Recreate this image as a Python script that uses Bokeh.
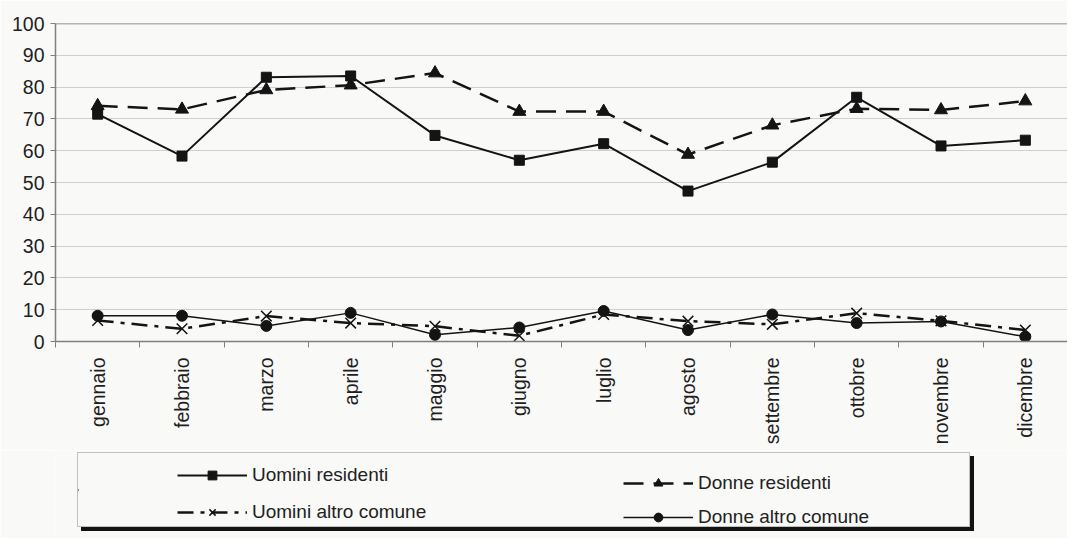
import math
from bokeh.plotting import figure
from bokeh.layouts import column
from bokeh.models import Range1d, FixedTicker, Span, Legend, LegendItem
from bokeh.embed import file_html
from bokeh.resources import INLINE

# ---- data ----
months = ["gennaio", "febbraio", "marzo", "aprile", "maggio", "giugno",
          "luglio", "agosto", "settembre", "ottobre", "novembre", "dicembre"]
uomini_residenti = [71.5, 58.3, 83.1, 83.5, 64.8, 57.0, 62.2, 47.3, 56.4, 76.8, 61.5, 63.3]
donne_residenti = [74.1, 73.0, 79.1, 80.6, 84.4, 72.3, 72.3, 58.8, 68.0, 73.2, 72.8, 75.6]
uomini_altro = [6.6, 4.0, 8.0, 5.8, 4.8, 1.8, 8.5, 6.4, 5.4, 8.9, 6.5, 3.6]
donne_altro = [8.1, 8.1, 4.9, 9.0, 2.1, 4.4, 9.6, 3.6, 8.5, 5.8, 6.3, 1.5]
y_ticks = list(range(0, 101, 10))

x = [i + 0.5 for i in range(len(months))]
bounds = list(range(len(months) + 1))

BG = "#f9f9f8"
INK = "#141414"
FONT = "Liberation Sans"
LEFT = 55

# ---- styles ----
ST = {
    "ur_line": dict(line_color=INK, line_width=2),
    "ur_mark": dict(marker="square", size=10, fill_color=INK, line_color=INK),
    "dr_line": dict(line_color=INK, line_width=2.5, line_dash="20 10"),
    "dr_mark": dict(marker="triangle", size=13, fill_color=INK, line_color=INK),
    "ua_line": dict(line_color=INK, line_width=2.5, line_dash="16 7 4 7"),
    "ua_mark": dict(marker="x", size=15, line_color=INK, line_width=1.5),
    "da_line": dict(line_color=INK, line_width=1.5),
    "da_mark": dict(marker="circle", size=11, fill_color=INK, line_color=INK),
}

p = figure(width=1067, height=450, output_backend="svg", toolbar_location=None,
           x_range=Range1d(0, len(months)), y_range=Range1d(0, 100),
           min_border_left=LEFT, min_border_right=0, min_border_top=23, min_border_bottom=109,
           background_fill_color=BG, border_fill_color=BG, outline_line_color=None)

# axes
p.xaxis.ticker = FixedTicker(ticks=x, minor_ticks=bounds)
p.xaxis.major_label_overrides = {xi: m for xi, m in zip(x, months)}
p.xaxis.major_label_orientation = math.pi / 2
p.xaxis.major_tick_line_color = None
p.xaxis.minor_tick_out = 6
p.xaxis.minor_tick_in = 0
p.xaxis.minor_tick_line_color = "#808080"
p.xaxis.axis_line_color = "#808080"
p.xaxis.axis_line_width = 1.5
p.xaxis.major_label_text_font = FONT
p.xaxis.major_label_text_font_size = "19.5px"
p.xaxis.major_label_text_color = "#1e1e1e"
p.xaxis.major_label_standoff = 10

p.yaxis.ticker = FixedTicker(ticks=y_ticks)
p.yaxis.major_tick_out = 5
p.yaxis.major_tick_in = 0
p.yaxis.minor_tick_line_color = None
p.yaxis.major_tick_line_color = "#808080"
p.yaxis.axis_line_color = "#808080"
p.yaxis.axis_line_width = 1.5
p.yaxis.major_label_text_font = FONT
p.yaxis.major_label_text_font_size = "19.5px"
p.yaxis.major_label_text_color = "#1e1e1e"
p.yaxis.major_label_standoff = 6

p.xgrid.grid_line_color = None
p.ygrid.grid_line_color = "#cfcfcf"
p.ygrid.grid_line_width = 1
p.add_layout(Span(location=p.y_range.end, dimension="width", line_color="#707070", line_width=1.5))

# series
p.line(x, uomini_residenti, **ST["ur_line"])
p.scatter(x, uomini_residenti, **ST["ur_mark"])
p.line(x, donne_residenti, **ST["dr_line"])
p.scatter(x, donne_residenti, **ST["dr_mark"])
p.line(x, uomini_altro, **ST["ua_line"])
p.scatter(x, uomini_altro, **ST["ua_mark"])
p.line(x, donne_altro, **ST["da_line"])
p.scatter(x, donne_altro, **ST["da_mark"])

# ---- legend panel (same series, kept out of its view; only the legend shows) ----
QH = 88
q = figure(width=1067, height=QH, output_backend="svg", toolbar_location=None,
           x_axis_location=None, y_axis_location=None,
           x_range=Range1d(0, len(months)), y_range=Range1d(-300, -200),
           min_border_left=LEFT, min_border_right=0, min_border_top=0, min_border_bottom=0,
           background_fill_color=BG, border_fill_color=BG, outline_line_color=None)
q.grid.visible = False

ql1 = q.line(x, uomini_residenti, **ST["ur_line"]); qs1 = q.scatter(x, uomini_residenti, **ST["ur_mark"])
ql2 = q.line(x, donne_residenti, **ST["dr_line"]); qs2 = q.scatter(x, donne_residenti, **ST["dr_mark"])
ql3 = q.line(x, uomini_altro, **ST["ua_line"]); qs3 = q.scatter(x, uomini_altro, **ST["ua_mark"])
ql4 = q.line(x, donne_altro, **ST["da_line"]); qs4 = q.scatter(x, donne_altro, **ST["da_mark"])

TOP = 450  # page y where the legend panel starts

def box_legend(left, bottom, fill, border, bw):
    return Legend(items=[LegendItem(label=" ", renderers=[ql1])],
                  location=(left - LEFT, TOP + QH - bottom),
                  padding=0, spacing=0, margin=0, glyph_width=1, glyph_height=73,
                  label_standoff=0, label_width=890, label_height=73,
                  label_text_font_size="2px", label_text_alpha=0,
                  background_fill_color=fill, background_fill_alpha=1,
                  border_line_color=border, border_line_width=bw)

q.add_layout(box_legend(81, 531, INK, INK, 1), "center")
q.add_layout(box_legend(77, 527, BG, "#8a8a8a", 1.2), "center")

def entries(items, left, bottom, spacing):
    return Legend(items=items, location=(left - LEFT, TOP + QH - bottom), padding=0,
                  spacing=spacing, margin=0,
                  glyph_width=70, glyph_height=22, label_height=22, label_standoff=5,
                  label_text_font=FONT, label_text_font_size="19px", label_text_color="#222222",
                  background_fill_alpha=0, border_line_alpha=0)

left_items = [LegendItem(label="Uomini residenti", renderers=[ql1, qs1]),
              LegendItem(label="Uomini altro comune", renderers=[ql3, qs3])]
right_items = [LegendItem(label="Donne residenti", renderers=[ql2, qs2]),
               LegendItem(label="Donne altro comune", renderers=[ql4, qs4])]
q.add_layout(entries(left_items, 177, 523, 15), "center")
q.add_layout(entries(right_items, 623, 528, 12), "center")

open("out.html", "w").write(file_html(column(p, q), INLINE))
